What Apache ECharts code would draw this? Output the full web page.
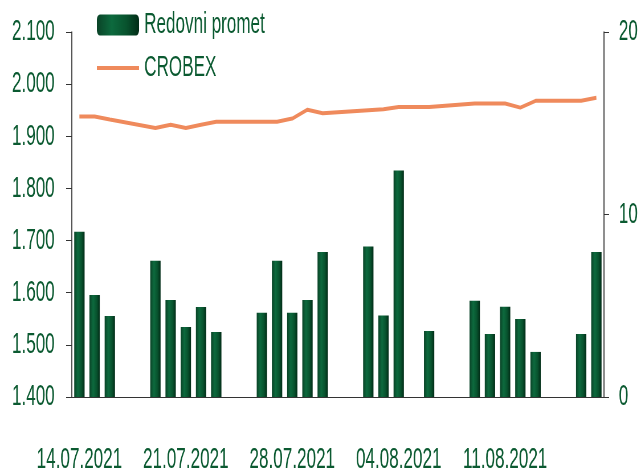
<!DOCTYPE html>
<html>
<head>
<meta charset="utf-8">
<script src="https://cdn.jsdelivr.net/npm/echarts@6/dist/echarts.min.js"></script>
<style>
  html, body { margin: 0; padding: 0; overflow: hidden; background: #fff; }
  /* the original text is squeezed horizontally, so draw wide and squeeze the whole chart */
  #main { width: 1125px; height: 472px; transform: scaleX(0.56978); transform-origin: 0 0; }
</style>
</head>
<body>
<div id="main"></div>
<script>
var days = [
  '14.07.2021', '15.07.2021', '16.07.2021', '17.07.2021', '18.07.2021', '19.07.2021', '20.07.2021',
  '21.07.2021', '22.07.2021', '23.07.2021', '24.07.2021', '25.07.2021', '26.07.2021', '27.07.2021',
  '28.07.2021', '29.07.2021', '30.07.2021', '31.07.2021', '01.08.2021', '02.08.2021', '03.08.2021',
  '04.08.2021', '05.08.2021', '06.08.2021', '07.08.2021', '08.08.2021', '09.08.2021', '10.08.2021',
  '11.08.2021', '12.08.2021', '13.08.2021', '14.08.2021', '15.08.2021', '16.08.2021', '17.08.2021'
];

// Redovni promet (right axis), null = no trading
var promet = [
  9.06, 5.59, 4.44, null, null, 7.46, 5.32,
  3.84, 4.93, 3.56, null, null, 4.62, 7.46,
  4.62, 5.32, 7.95, null, null, 8.24, 4.46,
  12.41, null, 3.62, null, null, 5.28, 3.45,
  4.95, 4.28, 2.47, null, null, 3.45, 7.95
];

// CROBEX (left axis)
var crobex = [
  1938, 1938, 1932, null, null, 1916, 1922,
  1916, 1922, 1928, null, null, 1928, 1928,
  1934, 1951, 1944, null, null, 1950, 1952,
  1956, null, 1956, null, null, 1963, 1963,
  1963, 1955, 1968, null, null, 1968, 1974
];

var green = '#0b5a31';
var font = "'Liberation Sans', Arial, sans-serif";

var chart = echarts.init(document.getElementById('main'));

var option = {
  animation: false,
  legend: {
    orient: 'vertical',
    left: 163,
    top: 5,
    itemWidth: 74,
    itemHeight: 21,
    itemGap: 13,
    textStyle: {
      color: green,
      fontFamily: font,
      fontSize: 30,
      padding: [0, 0, 0, 4]
    },
    data: [
      'Redovni promet',
      // no marker on the line icon
      { name: 'CROBEX', itemStyle: { opacity: 0 }, lineStyle: { width: 4 } }
    ]
  },
  grid: {
    left: 126,
    right: 65,
    top: 32,
    bottom: 75,
    outerBoundsMode: 'none'
  },
  xAxis: {
    type: 'category',
    data: days,
    boundaryGap: true,
    axisLine: {
      lineStyle: { color: '#333', width: 1 }
    },
    axisTick: {
      interval: 6,
      length: 7,
      lineStyle: { color: '#666', width: 1.75 }
    },
    axisLabel: {
      interval: 6,
      margin: 48,
      color: green,
      fontFamily: font,
      fontSize: 30
    }
  },
  yAxis: [
    {
      type: 'value',
      min: 1400,
      max: 2100,
      interval: 100,
      splitLine: { show: false },
      axisLine: {
        show: true,
        lineStyle: { color: '#333', width: 1.75 }
      },
      axisTick: {
        show: true,
        length: 10,
        lineStyle: { color: '#333', width: 1 }
      },
      axisLabel: {
        margin: 30,
        color: green,
        fontFamily: font,
        fontSize: 30,
        formatter: function (v) { return (v / 1000).toFixed(3); }
      }
    },
    {
      type: 'value',
      min: 0,
      max: 20,
      interval: 10,
      splitLine: { show: false },
      axisLine: {
        show: true,
        lineStyle: { color: '#333', width: 1.75 }
      },
      axisTick: {
        show: true,
        length: 9,
        lineStyle: { color: '#333', width: 1 }
      },
      axisLabel: {
        margin: 26,
        color: green,
        fontFamily: font,
        fontSize: 30
      }
    }
  ],
  series: [
    {
      name: 'Redovni promet',
      type: 'bar',
      yAxisIndex: 1,
      barWidth: '68%',
      itemStyle: {
        color: new echarts.graphic.LinearGradient(0, 0, 1, 0, [
          { offset: 0, color: '#0a4327' },
          { offset: 0.35, color: '#0d6a3e' },
          { offset: 0.7, color: '#08532e' },
          { offset: 1, color: '#022c17' }
        ])
      },
      data: promet
    },
    {
      name: 'CROBEX',
      type: 'line',
      yAxisIndex: 0,
      symbol: 'none',
      connectNulls: true,
      lineStyle: { width: 4, color: '#ef8a5c' },
      itemStyle: { color: '#ef8a5c' },
      data: crobex
    }
  ]
};

chart.setOption(option);
</script>
</body>
</html>
